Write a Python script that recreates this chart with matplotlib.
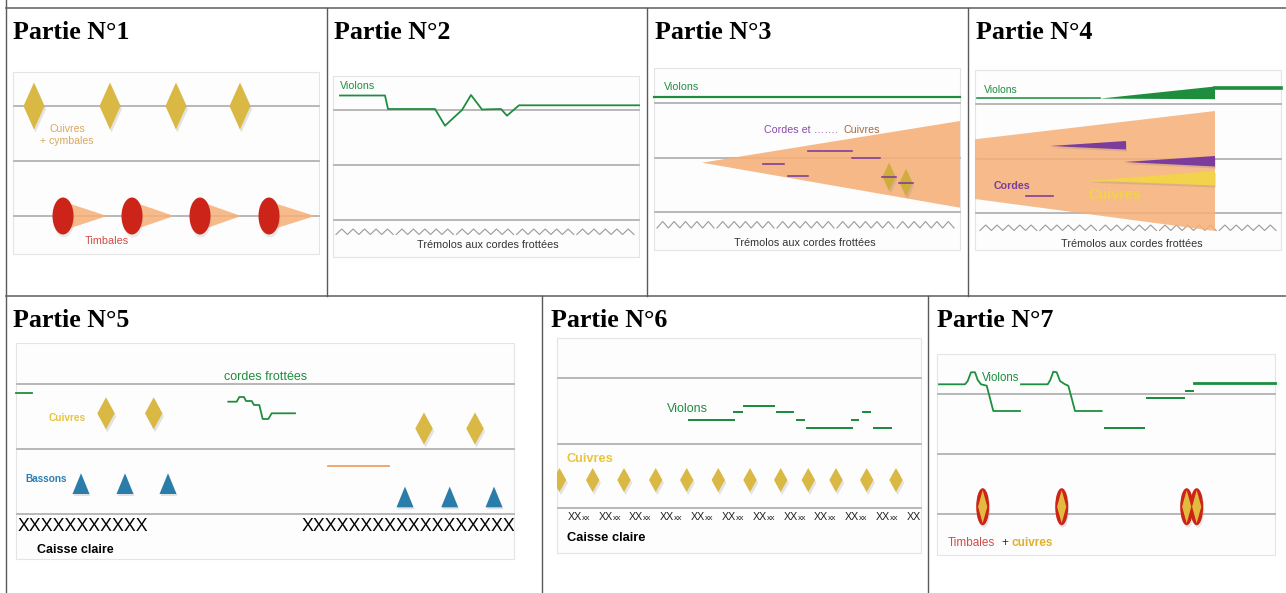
import numpy as np
import matplotlib
matplotlib.use("Agg")
import matplotlib.pyplot as plt
from matplotlib.patches import Polygon, Ellipse, Rectangle

# ------------------------------------------------------------------ data
titles = ["Partie N°1", "Partie N°2", "Partie N°3", "Partie N°4",
          "Partie N°5", "Partie N°6", "Partie N°7"]
title_x = [13, 334, 655, 976, 13, 551, 937]
title_y = [39, 39, 39, 39, 327, 327, 327]

grid_h = [7.5, 295.5]
row1_div = [326.5, 647, 967.5]
row2_div = [542, 928]

# picture boxes: x0, x1, y0, y1
boxes = [(13, 319, 72, 254), (333, 639, 76, 257), (654, 960, 68, 250),
         (975, 1281, 70, 250), (16, 514, 343, 559), (557, 921, 338, 553),
         (937, 1275, 354, 555)]

staff = [[106, 161, 216], [110, 165, 220], [103, 158, 212], [104, 158.7, 213],
         [383.7, 449, 514.3], [378.3, 444, 508.3], [393.7, 454, 514]]

# Partie 1
p1_cuivres_x = [34, 110, 176, 240]
p1_timbales_x = [63, 132, 200, 269]
p1_timbales_tip = [107, 174, 241, 315]

# Partie 2 violins melody
p2_vl_x = [340, 385, 388, 435, 445, 462, 471, 482, 501, 507, 519, 639]
p2_vl_y = [95.5, 95.5, 109, 109, 125.7, 110, 95, 109.5, 109, 115.7, 105.3, 105.3]

# Partie 3
p3_cresc_x = [702, 960, 960]
p3_cresc_y = [162.7, 121, 207.7]
p3_cordes_x0 = [763, 788, 808, 852]
p3_cordes_x1 = [784, 808, 852, 880]
p3_cordes_y = [164, 176, 150.7, 157.7]
p3_cuivres_x = [889, 906]
p3_cuivres_y = [176.7, 182.7]

# Partie 4
p4_cresc_x = [975, 1215, 1215, 975]
p4_cresc_y = [139.3, 111, 231, 199]
p4_wedges = [  # (x_start, y_start, x_end, y_end_top, y_end_bottom, colour)
    (1050, 146, 1126, 141, 149.5, "#7B3C9C"),
    (1124, 162, 1215, 156, 166.5, "#7B3C9C"),
    (1089, 180.7, 1215, 171, 185.5, "#F3D24C"),
]

# Partie 5
p5_vl_x = [228.3, 236.7, 239.3, 244, 246, 251.7, 254, 259.3, 262.7, 268.3, 271.7, 295]
p5_vl_y = [401.7, 401.7, 397, 397, 401, 401, 405, 405, 419, 419, 413.3, 413.3]
p5_cuivres_x = [106, 153.7, 424, 475]
p5_cuivres_y = [413.3, 413.3, 428.5, 428.5]
p5_bassons_x = [81, 125, 168, 405, 449.7, 494]
p5_bassons_base = [494, 494, 494, 507.3, 507.3, 507.3]

# Partie 6
p6_vl_x0 = [689.3, 734.3, 744, 777.3, 797.3, 807.3, 834.7, 851.7, 863.3, 874]
p6_vl_x1 = [734, 741.7, 774, 793.3, 804, 833.3, 851.7, 858.3, 870, 891]
p6_vl_y = [420, 411.7, 405.7, 411.7, 420, 427.7, 427.7, 420, 411.7, 427.7]
p6_cuivres_x = [559.5, 592.7, 624, 655.7, 686.7, 718.3, 750, 780.7, 808.3, 836, 866.7, 896]
p6_caisse_x = [567.3, 598.3, 629, 660, 691, 721.7, 752.7, 783.3, 814, 845, 875.7, 906.7]

# Partie 7
p7_vl1_x = [939, 965, 967.7, 971, 975, 977.7, 981, 986.7, 990, 993.3, 1020]
p7_vl1_y = [384.3, 384.3, 381, 372.3, 372.3, 380, 384.3, 385.7, 398.3, 411, 411]
p7_vl2_x = [1021, 1047.7, 1050.3, 1053.3, 1056.7, 1060, 1065, 1068.3, 1071.7, 1075, 1101.7]
p7_vl2_y = [384.3, 384.3, 380, 371.7, 372.3, 381, 384.3, 385.7, 398.3, 411, 411]
p7_dash_x0 = [1105.3, 1146.7, 1186, 1194.3]
p7_dash_x1 = [1144.3, 1184.3, 1192.7, 1275]
p7_dash_y = [427.7, 397.7, 391, 383.3]
p7_tim_x = [982.7, 1061.7, 1186.7, 1196.7]

# ------------------------------------------------------------------ style
GOLD = "#D9B843"
RED = "#CC2419"
ORANGE = "#F6AF77"
GREEN = "#1E8E3E"
PURPLE = "#7B3C9C"
BLUE = "#2A7DA8"
GREY = "#A9A9A9"
SANS = "Liberation Sans"
PX = 0.72  # points per pixel at 100 dpi

fig = plt.figure(figsize=(12.86, 5.93), dpi=100)
ax = fig.add_axes([0, 0, 1, 1])
ax.set_xlim(0, 1286)
ax.set_ylim(593, 0)
ax.axis("off")


def diamond(cx, cy, hw, hh, color, shadow=True, z=5, clip=None):
    if shadow:
        s = Polygon([(cx + 1.5, cy - hh + 3), (cx + hw + 1.5, cy + 3),
                     (cx + 1.5, cy + hh + 3), (cx - hw + 1.5, cy + 3)],
                    closed=True, fc="#888888", ec="none", alpha=0.22, zorder=z - 0.1)
        ax.add_patch(s)
        if clip is not None:
            s.set_clip_path(clip)
    p = Polygon([(cx, cy - hh), (cx + hw, cy), (cx, cy + hh), (cx - hw, cy)],
                closed=True, fc=color, ec="none", zorder=z)
    ax.add_patch(p)
    if clip is not None:
        p.set_clip_path(clip)


def zigzag(x0, x1, ytop, ybot, n_groups=5, peaks=5):
    total = x1 - x0
    gw = total / n_groups
    period = (gw - 3) / peaks
    for g in range(n_groups):
        gx = x0 + g * gw
        xs, ys = [], []
        for k in range(peaks):
            xs += [gx + k * period, gx + (k + 0.5) * period]
            ys += [ybot, ytop]
        xs.append(gx + peaks * period)
        ys.append(ybot)
        ax.plot(xs, ys, color="#9A9A9A", lw=0.8, zorder=3, solid_joinstyle="miter")


def txt(x, y, s, color, size, weight="normal", ha="left", clip=None, z=8):
    t = ax.text(x, y, s, color=color, fontsize=size, fontweight=weight,
                family=SANS, ha=ha, va="baseline", zorder=z)
    if clip is not None:
        t.set_clip_on(True)
        t.set_clip_path(clip)
    return t


# ------------------------------------------------------------------ table grid
for y in grid_h:
    ax.plot([6, 1286], [y, y], color="#5A5A5A", lw=1.5 * PX, zorder=1)
ax.plot([6, 6], [0, 593], color="#5A5A5A", lw=1.4 * PX, zorder=1)
for x in row1_div:
    ax.plot([x, x], [grid_h[0], grid_h[1]], color="#5A5A5A", lw=1.4 * PX, zorder=1)
for x in row2_div:
    ax.plot([x, x], [grid_h[1], 593], color="#5A5A5A", lw=1.4 * PX, zorder=1)

for s, x, y in zip(titles, title_x, title_y):
    ax.text(x, y, s, fontsize=18.7, fontweight="bold", family="Liberation Serif",
            ha="left", va="baseline", color="black", zorder=10)

# boxes and staff lines
clips = []
for (x0, x1, y0, y1), lines in zip(boxes, staff):
    r = Rectangle((x0, y0), x1 - x0, y1 - y0, fc="#FDFDFD", ec="#E4E4E4", lw=0.8, zorder=2)
    ax.add_patch(r)
    clips.append(r)
    for ly in lines:
        ax.plot([x0 + 1, x1], [ly, ly], color=GREY, lw=1.6 * PX, zorder=3)

# ------------------------------------------------------------------ Partie 1
for cx in p1_cuivres_x:
    diamond(cx, 106, 10.5, 23.5, GOLD)
txt(50, 131.7, "Cuivres", "#D9A85C", 7.6)
txt(40, 143.8, "+ cymbales", "#D9A85C", 7.6)
for cx, tip in zip(p1_timbales_x, p1_timbales_tip):
    ax.add_patch(Polygon([(cx, 216 - 14.5), (tip, 216), (cx, 216 + 14.5)], closed=True,
                         fc=ORANGE, ec="none", alpha=0.85, zorder=4))
    ax.add_patch(Ellipse((cx + 1, 219), 21, 37, fc="#999999", ec="none", alpha=0.2, zorder=4.9))
    ax.add_patch(Ellipse((cx, 216), 21, 37, fc=RED, ec="none", zorder=5))
txt(85, 244.3, "Timbales", "#D24B45", 7.8)

# ------------------------------------------------------------------ Partie 2
ax.plot(p2_vl_x, p2_vl_y, color=GREEN, lw=1.8 * PX, zorder=6)
txt(340, 89.3, "Violons", GREEN, 7.7)
zigzag(336, 637, 229, 234.5)
txt(488, 248.3, "Trémolos aux cordes frottées", "#333333", 7.8, ha="center")

# ------------------------------------------------------------------ Partie 3
ax.plot([654, 960], [96.7, 96.7], color=GREEN, lw=2.2 * PX, zorder=6)
txt(664, 90, "Violons", GREEN, 7.7)
ax.add_patch(Polygon(list(zip(p3_cresc_x, p3_cresc_y)), closed=True,
                     fc=ORANGE, ec="none", alpha=0.88, zorder=4))
for x0, x1, y in zip(p3_cordes_x0, p3_cordes_x1, p3_cordes_y):
    ax.plot([x0, x1], [y, y], color=PURPLE, lw=1.6 * PX, zorder=6)
for cx, cy in zip(p3_cuivres_x, p3_cuivres_y):
    diamond(cx, cy, 6.5, 14, "#CFAD3C", z=6)
    ax.plot([cx - 7, cx + 7], [cy, cy], color=PURPLE, lw=1.6 * PX, zorder=7)
txt(764, 133.3, "Cordes et ……. ", "#8A4BAA", 7.7)
txt(844, 133.3, "Cuivres", "#A8683E", 7.7)
zigzag(657, 957, 221.5, 228)
txt(805, 246, "Trémolos aux cordes frottées", "#333333", 7.8, ha="center")

# ------------------------------------------------------------------ Partie 4
ax.add_patch(Polygon(list(zip(p4_cresc_x, p4_cresc_y)), closed=True,
                     fc=ORANGE, ec="none", alpha=0.86, zorder=4))
ax.plot([977, 1100], [98, 98], color=GREEN, lw=1.6 * PX, zorder=6)
ax.add_patch(Polygon([(1100, 98.6), (1215, 86.5), (1215, 99.2)], closed=True,
                     fc=GREEN, ec="none", zorder=6))
ax.plot([1215, 1281], [88.3, 88.3], color=GREEN, lw=3.6 * PX, zorder=6)
txt(984, 93.3, "Violons", GREEN, 7.5)
for xs, ys, xe, yt, yb, c in p4_wedges:
    ax.add_patch(Polygon([(xs + 1, ys + 2), (xe + 1, yt + 2), (xe + 1, yb + 2)], closed=True,
                         fc="#777777", ec="none", alpha=0.2, zorder=5.9))
    ax.add_patch(Polygon([(xs, ys), (xe, yt), (xe, yb)], closed=True,
                         fc=c, ec="none", zorder=6))
txt(994, 189, "Cordes", "#7B3C9C", 7.7, weight="bold")
ax.plot([1026, 1053], [195.7, 195.7], color=PURPLE, lw=1.6 * PX, zorder=6)
txt(1088, 199.3, "Cuivres", "#F3D24C", 10.4, weight="bold")
zigzag(980, 1279, 225, 230.5)
txt(1132, 247.3, "Trémolos aux cordes frottées", "#333333", 7.8, ha="center")

# ------------------------------------------------------------------ Partie 5
txt(265.7, 380, "cordes frottées", GREEN, 9, ha="center")
ax.plot([16, 31.5], [392.7, 392.7], color=GREEN, lw=1.8 * PX, zorder=6)
ax.plot(p5_vl_x, p5_vl_y, color=GREEN, lw=1.8 * PX, zorder=6)
for cx, cy in zip(p5_cuivres_x, p5_cuivres_y):
    diamond(cx, cy, 8.7, 16, GOLD)
txt(49, 420.7, "Cuivres", "#E8C53A", 7.3, weight="bold")
ax.plot([328.3, 389], [466.3, 466.3], color="#F0A060", lw=1.8 * PX, zorder=6)
for cx, yb in zip(p5_bassons_x, p5_bassons_base):
    ax.add_patch(Polygon([(cx - 8.5 + 1, yb + 2), (cx + 1, yb - 20.7 + 2), (cx + 8.5 + 1, yb + 2)],
                         closed=True, fc="#777777", ec="none", alpha=0.2, zorder=4.9))
    ax.add_patch(Polygon([(cx - 8.5, yb), (cx, yb - 20.7), (cx + 8.5, yb)],
                         closed=True, fc=BLUE, ec="none", zorder=5))
txt(25, 481.7, "Bassons", "#2A7DB5", 7.2, weight="bold")
txt(18, 531, "X" * 11, "black", 12.8)
txt(302, 531, "X" * 19, "black", 12.8, clip=clips[4])
txt(37, 553.3, "Caisse claire", "black", 9, weight="bold")

# ------------------------------------------------------------------ Partie 6
txt(666.7, 411.7, "Violons", GREEN, 9)
for x0, x1, y in zip(p6_vl_x0, p6_vl_x1, p6_vl_y):
    ax.plot([x0, x1], [y, y], color=GREEN, lw=2 * PX, zorder=6)
txt(566.7, 461.7, "Cuivres", "#E8C53A", 9.2, weight="bold")
for cx in p6_cuivres_x:
    diamond(cx, 480, 6.7, 12, GOLD, clip=clips[5])
for x in p6_caisse_x:
    txt(x, 520, "XX", "#222222", 7.7, clip=clips[5])
    txt(x + 14.3, 520, "xx", "#222222", 6.0, clip=clips[5])
txt(567.3, 540.7, "Caisse claire", "black", 9.3, weight="bold")

# ------------------------------------------------------------------ Partie 7
ax.plot(p7_vl1_x, p7_vl1_y, color=GREEN, lw=1.8 * PX, zorder=6)
ax.plot(p7_vl2_x, p7_vl2_y, color=GREEN, lw=1.8 * PX, zorder=6)
for x0, x1, y in zip(p7_dash_x0, p7_dash_x1, p7_dash_y):
    ax.plot([x0, x1], [y, y], color=GREEN, lw=(2.8 if x1 > 1270 else 2) * PX, zorder=6)
txt(981.7, 380.7, "Violons", GREEN, 8.3)
for cx in p7_tim_x:
    ax.add_patch(Ellipse((cx + 1, 509), 13, 37, fc="#888888", ec="none", alpha=0.22, zorder=4.9))
    ax.add_patch(Ellipse((cx, 506.7), 13, 37, fc=RED, ec="none", zorder=5))
    diamond(cx, 506.7, 4.6, 16.5, "#E2BB3E", shadow=False, z=5.5)
txt(947.7, 545.7, "Timbales", "#D24B45", 8.5)
txt(1001, 545.7, "+", "#333333", 8.5)
txt(1011, 545.7, "cuivres", "#E0B030", 8.5, weight="bold")

fig.savefig("out.png", dpi=100, facecolor="white")
